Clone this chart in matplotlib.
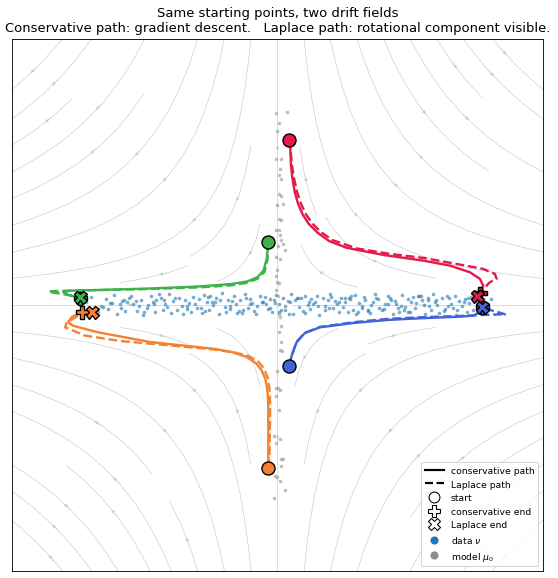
import numpy as np
import matplotlib.pyplot as plt
from matplotlib.lines import Line2D

# colours for the four starting points
RED = '#e6194b'
GREEN = '#3cb44b'
BLUE = '#4363d8'
ORANGE = '#f58231'

# data nu (horizontal band)
data_x = [-2.88, -2.74, -2.81, -2.66, -2.59, -2.71, -2.52, -2.47, -2.55, -2.38,
          -2.42, -2.31, -2.36, -2.24, -2.29, -2.17, -2.21, -2.09, -2.13, -2.02,
          -2.06, -1.97, -1.91, -1.95, -1.84, -1.88, -1.79, -1.73, -1.76, -1.66,
          -1.69, -1.61, -1.57, -1.63, -1.52, -1.48, -1.44, -1.39, -1.42, -1.33,
          -1.36, -1.28, -1.24, -1.31, -1.19, -1.15, -1.11, -1.06, -1.09, -1.01,
          -0.97, -1.03, -0.92, -0.88, -0.94, -0.83, -0.79, -0.74, -0.77, -0.69,
          -0.66, -0.71, -0.61, -0.57, -0.63, -0.52, -0.48, -0.44, -0.49, -0.39,
          -0.36, -0.41, -0.31, -0.27, -0.33, -0.22, -0.18, -0.14, -0.19, -0.09,
          -0.06, -0.11, -0.02, 0.03, -0.04, 0.08, 0.12, 0.16, 0.11, 0.21,
          0.24, 0.19, 0.29, 0.33, 0.27, 0.38, 0.42, 0.46, 0.41, 0.51,
          0.54, 0.49, 0.59, 0.63, 0.57, 0.68, 0.72, 0.76, 0.71, 0.81,
          0.84, 0.79, 0.89, 0.93, 0.87, 0.98, 1.02, 1.06, 1.01, 1.11,
          1.14, 1.09, 1.19, 1.23, 1.17, 1.28, 1.32, 1.36, 1.31, 1.41,
          1.44, 1.39, 1.49, 1.53, 1.47, 1.58, 1.62, 1.66, 1.61, 1.71,
          1.74, 1.69, 1.79, 1.83, 1.77, 1.88, 1.92, 1.96, 1.91, 2.01,
          2.04, 1.99, 2.09, 2.13, 2.07, 2.18, 2.22, 2.26, 2.21, 2.31,
          2.34, 2.29, 2.39, 2.43, 2.37, 2.48, 2.52, 2.56, 2.51, 2.61,
          2.64, 2.59, 2.69, 2.73, 2.67, 2.78, 2.82, 2.86, 2.81, 2.91,
          2.94, 2.89, 2.99, 3.04, 2.97, 3.08, 3.12, 3.17, 3.02, 3.22,
          -1.83, -0.58, 0.36, 1.27, 2.16, -2.27, -1.13, 0.02, 0.95, 1.86,
          -2.63, -2.35, -2.12, -1.86, -1.54, -1.21, -0.86, -0.53, -0.24, 0.06,
          0.31, 0.61, 0.92, 1.21, 1.52, 1.81, 2.11, 2.41, 2.71, 2.99,
          -2.49, -2.01, -1.71, -1.37, -1.04, -0.72, -0.42, -0.12, 0.18, 0.47,
          0.77, 1.07, 1.37, 1.67, 1.97, 2.27, 2.57, 2.87, 3.13, -0.99]
data_y = [0.05, -0.08, 0.12, -0.02, 0.09, -0.11, 0.03, 0.15, -0.06, 0.01,
          -0.13, 0.07, -0.04, 0.11, -0.09, 0.02, 0.14, -0.01, 0.06, -0.15,
          0.08, -0.05, 0.13, 0.00, -0.10, 0.04, 0.17, -0.07, 0.10, -0.03,
          0.02, -0.12, 0.06, 0.16, -0.08, 0.11, -0.02, 0.07, -0.14, 0.03,
          -0.06, 0.12, 0.01, -0.11, 0.09, -0.04, 0.15, 0.05, -0.09, 0.13,
          0.00, -0.07, 0.10, -0.13, 0.04, 0.18, -0.03, 0.08, -0.10, 0.06,
          0.14, -0.01, -0.12, 0.07, 0.02, -0.08, 0.11, -0.05, 0.16, 0.03,
          -0.09, 0.09, -0.02, 0.13, -0.14, 0.05, 0.01, -0.06, 0.12, -0.11,
          0.08, -0.04, 0.15, -0.10, 0.03, 0.10, -0.07, 0.06, -0.01, 0.17,
          -0.13, 0.04, 0.11, -0.03, 0.07, -0.09, 0.14, 0.00, -0.12, 0.09,
          0.02, -0.06, 0.13, -0.15, 0.05, 0.10, -0.02, 0.08, -0.08, 0.12,
          -0.05, 0.16, 0.01, -0.11, 0.06, -0.03, 0.11, -0.10, 0.04, 0.14,
          -0.07, 0.09, -0.13, 0.03, 0.15, -0.01, 0.07, -0.09, 0.12, 0.00,
          0.05, -0.12, 0.10, -0.04, 0.17, -0.08, 0.02, 0.13, -0.06, 0.08,
          -0.14, 0.11, 0.01, -0.10, 0.06, 0.15, -0.03, 0.09, -0.07, 0.04,
          0.12, -0.11, 0.03, 0.14, -0.05, 0.07, -0.13, 0.10, 0.00, -0.08,
          0.16, -0.02, 0.08, -0.12, 0.05, 0.11, -0.06, 0.13, -0.09, 0.02,
          -0.04, 0.10, -0.15, 0.06, 0.14, -0.01, 0.09, -0.10, 0.04, 0.12,
          -0.07, 0.03, 0.15, -0.11, 0.08, -0.03, 0.17, 0.01, -0.06, 0.09,
          0.07, -0.09, 0.11, -0.04, 0.13, 0.05, -0.12, 0.02, 0.10, -0.02,
          -0.03, 0.06, -0.09, 0.02, 0.10, -0.05, 0.08, -0.12, 0.04, -0.07,
          0.11, -0.01, 0.05, -0.10, 0.09, -0.04, 0.13, 0.00, -0.08, 0.06,
          0.03, -0.11, 0.07, -0.02, 0.12, -0.06, 0.01, 0.09, -0.13, 0.05,
          -0.04, 0.10, -0.07, 0.02, -0.10, 0.07, -0.01, 0.11, -0.05, 0.04]

# model mu_0 (vertical band)
model_x = [-0.03, 0.14, 0.02, 0.00, -0.03, 0.06, 0.04, 0.02, 0.06, 0.03,
           0.05, 0.00, 0.03, 0.05, -0.02, 0.03, 0.04, 0.08, 0.01, 0.12,
           -0.03, 0.04, 0.00, -0.03, -0.01, 0.03, -0.02, 0.01, 0.04, 0.06,
           0.02, 0.03, 0.05, 0.07, 0.04, -0.01, -0.03, 0.01, 0.04, -0.03,
           0.02, -0.05, 0.04, -0.03, 0.05, 0.09, 0.06, -0.04, 0.00, 0.04,
           0.12, -0.05, 0.09, 0.05]
model_y = [2.88, 2.90, 2.74, 2.61, 2.20, 2.19, 2.04, 1.96, 1.90, 1.67,
           1.64, 1.51, 1.30, 1.28, 1.13, 1.12, 1.05, 0.92, 0.89, 0.83,
           0.72, 0.69, 0.52, 0.44, 0.35, 0.33, 0.22, 0.14, -0.18, -0.31,
           -0.14, -0.41, -0.55, -0.69, -0.67, -0.99, -1.25, -1.25, -1.28, -1.37,
           -1.58, -1.97, -2.01, -2.08, -2.31, -2.31, -2.42, -2.57, -2.59, -2.65,
           -2.78, -2.90, 1.52, 0.97]

# paths: conservative (solid) and Laplace (dashed)
red_cons_x = [0.178, 0.193, 0.203, 0.225, 0.260, 0.310, 0.380, 0.470, 0.600, 0.780,
              1.042, 1.593, 2.196, 2.598, 2.899, 3.050, 3.099, 3.070, 3.050]
red_cons_y = [2.485, 2.349, 2.098, 1.900, 1.700, 1.520, 1.360, 1.220, 1.090, 0.960,
              0.860, 0.753, 0.667, 0.592, 0.492, 0.392, 0.291, 0.220, 0.180]
red_lap_x = [0.178, 0.196, 0.218, 0.250, 0.295, 0.350, 0.425, 0.520, 0.650, 0.830,
             1.193, 1.694, 2.196, 2.699, 3.099, 3.276, 3.301, 3.200, 3.151, 3.090, 3.004]
red_lap_y = [2.485, 2.349, 2.098, 1.900, 1.700, 1.530, 1.370, 1.230, 1.100, 0.975,
             0.850, 0.768, 0.708, 0.617, 0.542, 0.467, 0.392, 0.342, 0.291, 0.215, 0.136]

blue_cons_x = [0.178, 0.214, 0.289, 0.414, 0.640, 1.142, 1.645, 2.146, 2.748, 2.949, 3.039, 3.075]
blue_cons_y = [-0.914, -0.764, -0.557, -0.420, -0.336, -0.271, -0.226, -0.200, -0.176, -0.161, -0.110, -0.035]
blue_lap_x = [0.178, 0.210, 0.280, 0.400, 0.640, 1.140, 1.650, 2.150, 2.750, 3.100, 3.400, 3.440, 3.300, 3.100, 3.080]
blue_lap_y = [-0.914, -0.770, -0.570, -0.425, -0.330, -0.260, -0.210, -0.185, -0.165, -0.150, -0.140, -0.145, -0.100, -0.050, -0.030]

green_cons_x = [-0.139, -0.163, -0.210, -0.300, -0.450, -0.700, -1.167, -1.920, -2.673, -3.125, -3.230, -3.150, -2.974]
green_cons_y = [0.944, 0.693, 0.520, 0.420, 0.355, 0.315, 0.279, 0.248, 0.226, 0.215, 0.195, 0.150, 0.105]
green_lap_x = [-0.139, -0.150, -0.195, -0.290, -0.450, -0.700, -1.170, -1.920, -2.670, -3.150, -3.450, -3.400, -3.150, -2.980]
green_lap_y = [0.944, 0.690, 0.500, 0.400, 0.335, 0.295, 0.265, 0.240, 0.225, 0.215, 0.205, 0.190, 0.150, 0.115]

orange_cons_x = [-0.139, -0.139, -0.139, -0.150, -0.180, -0.240, -0.330, -0.470, -0.680, -0.950,
                 -1.920, -2.723, -3.080, -3.155, -3.099, -2.949]
orange_cons_y = [-2.444, -2.270, -1.500, -1.300, -1.120, -0.980, -0.870, -0.780, -0.710, -0.660,
                 -0.557, -0.407, -0.312, -0.256, -0.181, -0.110]
orange_lap_x = [-0.139, -0.120, -0.110, -0.118, -0.145, -0.200, -0.290, -0.430, -0.640, -0.950,
                -1.600, -2.372, -2.900, -3.075, -3.200, -3.175, -3.000, -2.798]
orange_lap_y = [-2.444, -2.270, -1.500, -1.280, -1.100, -0.960, -0.850, -0.770, -0.715, -0.670,
                -0.610, -0.542, -0.460, -0.387, -0.336, -0.261, -0.160, -0.110]

fig = plt.figure(figsize=(7.154, 7.423), dpi=78)
ax = fig.add_axes([0.0215, 0.0121, 0.9516, 0.9189])

# background drift field streamlines
gx = np.linspace(-4, 4, 60)
gy = np.linspace(-4, 4, 60)
GX, GY = np.meshgrid(gx, gy)
ax.streamplot(GX, GY, GX, -GY, color='0.8', linewidth=0.6, density=0.7,
              arrowsize=0.6, zorder=0)

ax.scatter(data_x, data_y, s=11, color='#1f77b4', alpha=0.6, linewidths=0, zorder=2)
ax.scatter(model_x, model_y, s=11, color='0.55', alpha=0.55, linewidths=0, zorder=2)

paths = [
    (RED, red_cons_x, red_cons_y, red_lap_x, red_lap_y),
    (GREEN, green_cons_x, green_cons_y, green_lap_x, green_lap_y),
    (BLUE, blue_cons_x, blue_cons_y, blue_lap_x, blue_lap_y),
    (ORANGE, orange_cons_x, orange_cons_y, orange_lap_x, orange_lap_y),
]
for c, cx, cy, lx, ly in paths:
    ax.plot(cx, cy, color=c, lw=2.2, zorder=3)
    ax.plot(lx, ly, color=c, lw=2.2, ls='--', zorder=3)
    ax.plot(cx[0], cy[0], 'o', ms=12, color=c, mec='k', mew=1.3, zorder=5)
    ax.plot(cx[-1], cy[-1], 'P', ms=12, color=c, mec='k', mew=1.3, zorder=5)
    ax.plot(lx[-1], ly[-1], 'X', ms=12, color=c, mec='k', mew=1.3, zorder=6)

ax.set_xlim(-4, 4)
ax.set_ylim(-4, 4)
ax.set_xticks([])
ax.set_yticks([])
ax.set_title('Same starting points, two drift fields\n'
             'Conservative path: gradient descent.   Laplace path: rotational component visible.',
             fontsize=12.1, pad=7)

handles = [
    Line2D([], [], color='k', lw=2, label='conservative path'),
    Line2D([], [], color='k', lw=2, ls='--', label='Laplace path'),
    Line2D([], [], ls='', marker='o', ms=10, mfc='white', mec='k', label='start'),
    Line2D([], [], ls='', marker='P', ms=11, mfc='white', mec='k', label='conservative end'),
    Line2D([], [], ls='', marker='X', ms=11, mfc='white', mec='k', label='Laplace end'),
    Line2D([], [], ls='', marker='o', ms=6.5, color='#1f77b4', label=r'data $\nu$'),
    Line2D([], [], ls='', marker='o', ms=6.5, color='0.55', label=r'model $\mu_0$'),
]
ax.legend(handles=handles, loc='lower right', fontsize=8.5)

fig.savefig('out.png', dpi=78)
